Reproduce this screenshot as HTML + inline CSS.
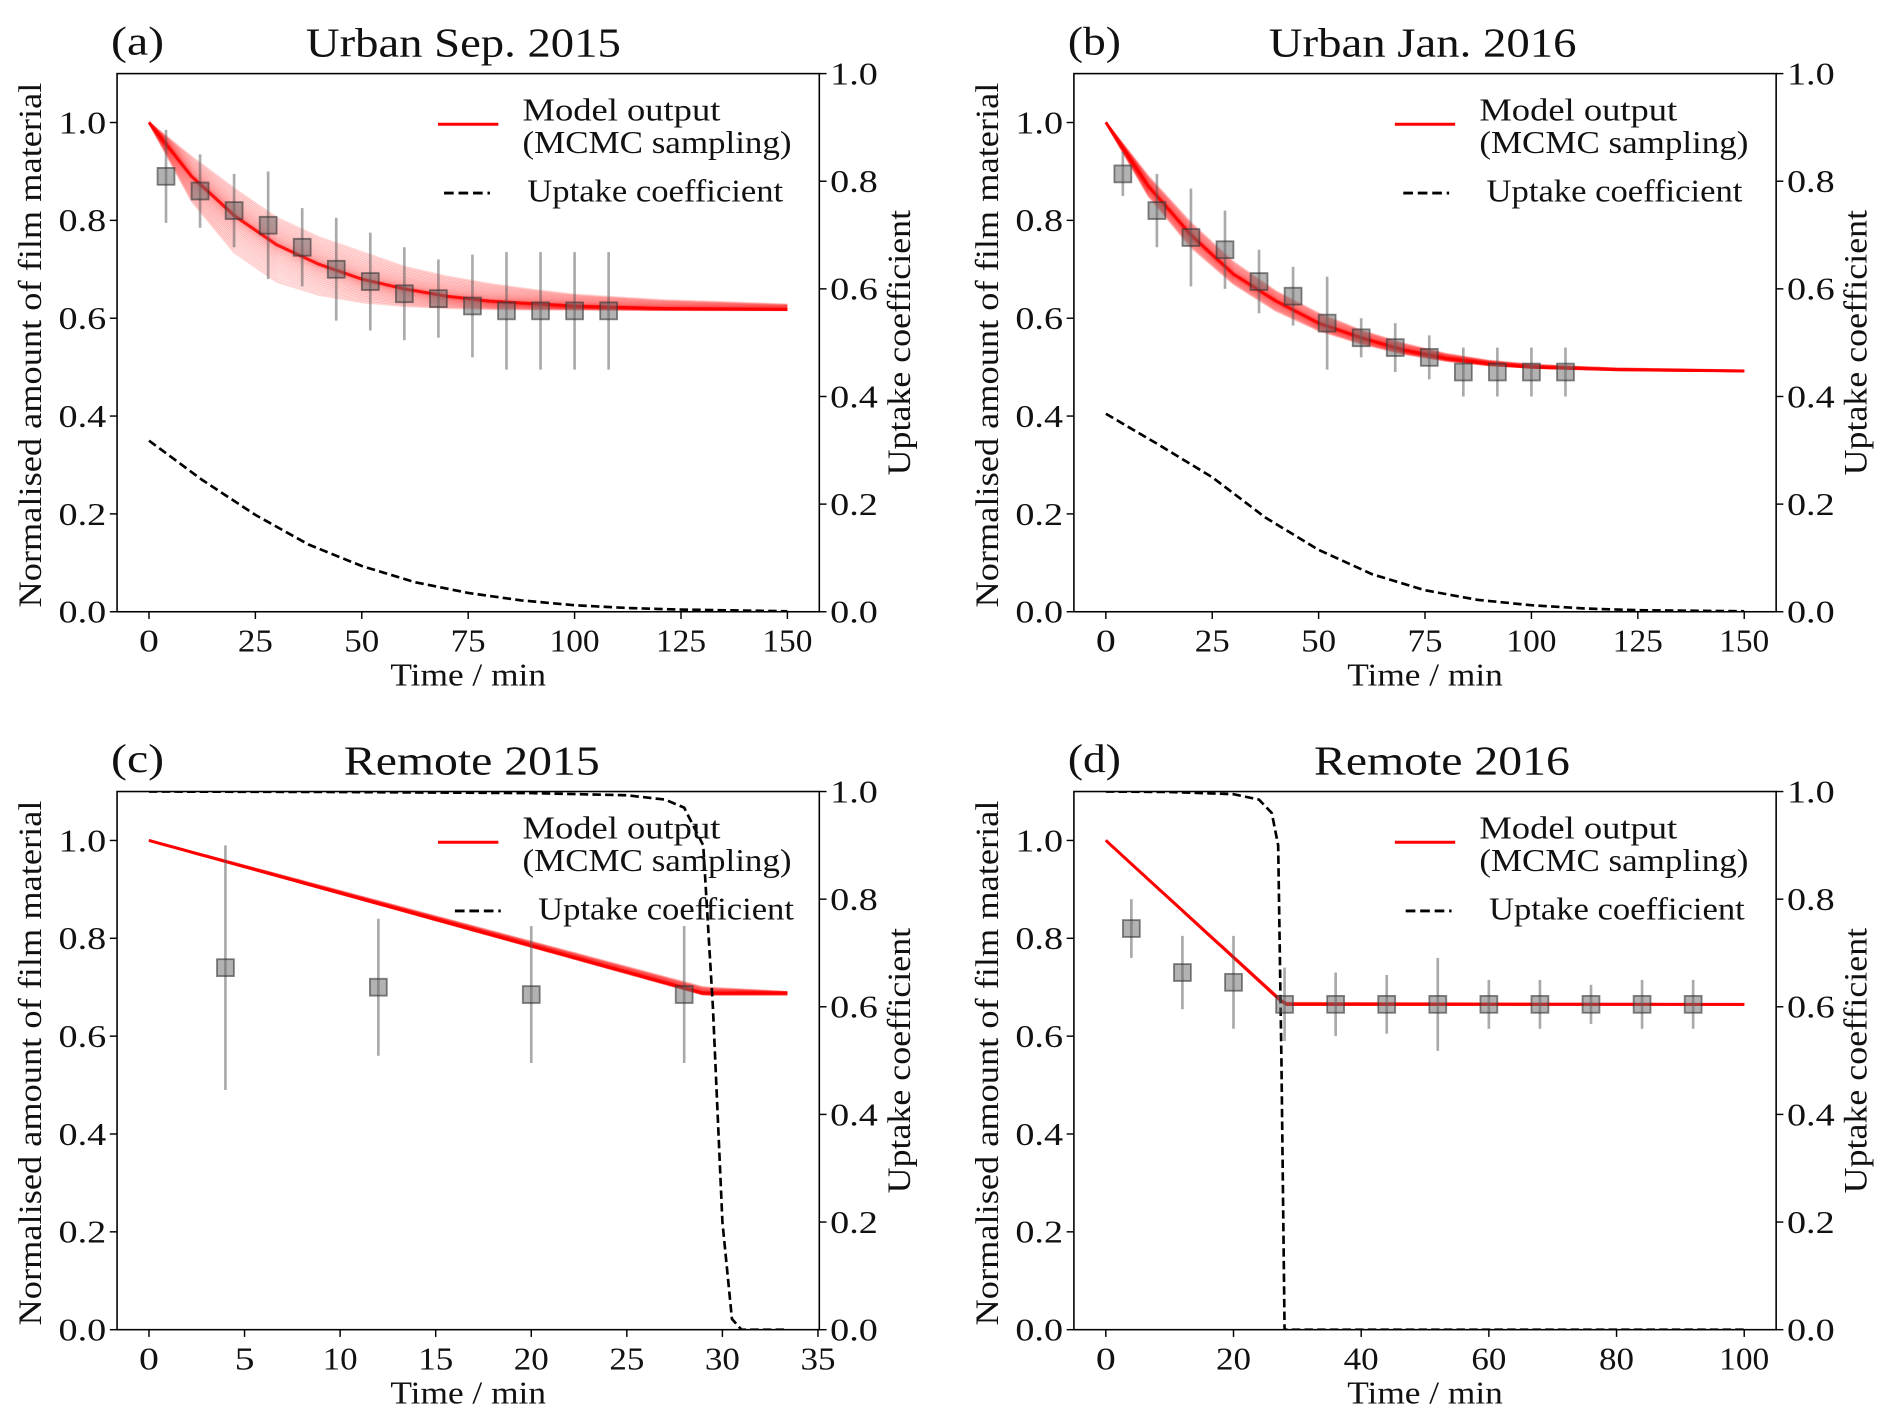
<!DOCTYPE html>
<html><head><meta charset="utf-8"><style>
html,body{margin:0;padding:0;background:#fff}
svg{display:block}
text{font-family:"Liberation Serif","DejaVu Serif",serif;fill:#111}
</style></head><body>
<svg id="fig" width="1892" height="1425" viewBox="0 0 1568 1181" xmlns="http://www.w3.org/2000/svg"></svg>
<script>
// ---- data ----
const timesA = [4,12,20,28,36,44,52,60,68,76,84,92,100,108];
const obsA = [0.89,0.86,0.82,0.79,0.745,0.70,0.675,0.65,0.64,0.625,0.615,0.615,0.615,0.615];
const errA = [0.095,0.075,0.075,0.11,0.08,0.105,0.1,0.095,0.08,0.105,0.12,0.12,0.12,0.12];
const modelTA = [0,10,20,30,40,50,60,70,80,90,100,120,150];
const modelLoA = [1.0,0.84,0.735,0.675,0.648,0.633,0.625,0.621,0.619,0.618,0.618,0.617,0.617];
const modelMidA = [1.0,0.89,0.81,0.75,0.71,0.68,0.66,0.645,0.635,0.63,0.625,0.62,0.618];
const modelHiA = [1.0,0.93,0.865,0.805,0.765,0.735,0.705,0.685,0.67,0.658,0.648,0.637,0.628];
const uptakeTA = [0,12.5,25,37.5,50,62.5,75,87.5,100,112.5,125,150];
const uptakeA = [0.318,0.245,0.18,0.125,0.085,0.055,0.035,0.021,0.012,0.007,0.004,0.001];

const timesB = [4,12,20,28,36,44,52,60,68,76,84,92,100,108];
const obsB = [0.895,0.82,0.765,0.74,0.675,0.645,0.59,0.56,0.54,0.52,0.49,0.49,0.49,0.49];
const errB = [0.045,0.075,0.1,0.08,0.065,0.06,0.095,0.04,0.05,0.045,0.05,0.05,0.05,0.05];
const modelTB = [0,10,20,30,40,50,60,70,80,90,100,120,150];
const modelLoB = [1.0,0.85,0.745,0.67,0.615,0.575,0.548,0.527,0.513,0.504,0.499,0.494,0.492];
const modelMidB = [1.0,0.87,0.77,0.69,0.635,0.59,0.56,0.535,0.518,0.507,0.50,0.495,0.492];
const modelHiB = [1.0,0.89,0.795,0.715,0.655,0.61,0.575,0.548,0.527,0.513,0.505,0.497,0.493];
const uptakeTB = [0,12.5,25,37.5,50,62.5,75,87.5,100,112.5,125,150];
const uptakeB = [0.368,0.31,0.25,0.175,0.115,0.07,0.04,0.022,0.012,0.006,0.003,0.001];

const timesC = [4,12,20,28];
const obsC = [0.74,0.70,0.685,0.685];
const errC = [0.25,0.14,0.14,0.14];
const modelTC = [0,29,33.4];
const modelLoC = [1.0,0.685,0.685];
const modelMidC = [1.0,0.688,0.688];
const modelHiC = [1.0,0.70,0.69];
const uptakeTC = [0,10,20,25,27,28,29,29.5,30,30.5,31,33.4];
const uptakeC = [1.0,0.999,0.997,0.993,0.985,0.97,0.9,0.6,0.2,0.02,0.0,0.0];

const timesD = [4,12,20,28,36,44,52,60,68,76,84,92];
const obsD = [0.82,0.73,0.71,0.665,0.665,0.665,0.665,0.665,0.665,0.665,0.665,0.665];
const errD = [0.06,0.075,0.095,0.075,0.065,0.06,0.095,0.05,0.05,0.04,0.05,0.05];
const modelTD = [0,28,100];
const modelLoD = [1.0,0.665,0.665];
const modelMidD = [1.0,0.665,0.665];
const modelHiD = [1.0,0.668,0.665];
const uptakeTD = [0,10,20,24,26,27,27.5,28,100];
const uptakeD = [1.0,0.999,0.995,0.985,0.96,0.9,0.5,0.0,0.0];

const NS = "http://www.w3.org/2000/svg";
const svg = document.getElementById('fig');
function mk(tag, attrs, parent, txt){
  const e = document.createElementNS(NS, tag);
  for (const k in attrs) e.setAttribute(k, attrs[k]);
  if (txt !== undefined) e.textContent = txt;
  (parent || svg).appendChild(e);
  return e;
}
function interp(ts, vs, t){
  if (t <= ts[0]) return vs[0];
  for (let i=1;i<ts.length;i++){ if (t<=ts[i]){ const f=(t-ts[i-1])/(ts[i]-ts[i-1]); return vs[i-1]+f*(vs[i]-vs[i-1]); } }
  return vs[vs.length-1];
}
function tickW(s){ return s.length*12.5 + (s.indexOf('.')>=0 ? 2 : 4); }

function panel(cfg){
  const g = mk('g', {});
  
  
  const L = cfg.ox+97, R = cfg.ox+679, T = cfg.oy+61, B = cfg.oy+507;
  const xs = t => L + (t - cfg.xmin)/(cfg.xmax-cfg.xmin)*(R-L);
  const ys = v => B - v/1.1*(B-T);
  const yr = v => B - v*(B-T);
  const clip = mk('clipPath', {id:'clip'+cfg.id}, g);
  mk('rect', {x:L, y:T, width:R-L, height:B-T}, clip);
  const plot = mk('g', {'clip-path':'url(#clip'+cfg.id+')'}, g);
  const tmax = cfg.mt[cfg.mt.length-1];
  const nC = 40;
  for (let k=0;k<nC;k++){
    const f0 = k/(nC-1);
    const f = 0.5 + 0.5*Math.sign(f0-0.5)*Math.pow(Math.abs(f0-0.5)*2, 1.6);
    let d = '';
    for (let s=0;s<=120;s++){
      const t = tmax*s/120;
      const lo = interp(cfg.mt, cfg.lo, t), mid = interp(cfg.mt, cfg.mid, t), hi = interp(cfg.mt, cfg.hi, t);
      const v = f<0.5 ? lo + (mid-lo)*f*2 : mid + (hi-mid)*(f-0.5)*2;
      d += (s?'L':'M') + xs(t).toFixed(1) + ',' + ys(v).toFixed(1);
    }
    const p = mk('path', {d:d, fill:'none', stroke:'#ff0000', 'stroke-opacity':0.16, 'stroke-width':2}, plot);
    
    
  }
  let dm = '';
  for (let s=0;s<=120;s++){ const t=tmax*s/120; dm += (s?'L':'M')+xs(t).toFixed(1)+','+ys(interp(cfg.mt,cfg.mid,t)).toFixed(1); }
  const pm = mk('path', {d:dm, fill:'none', stroke:'#ff0000', 'stroke-opacity':0.8, 'stroke-width':2.5}, plot);
  
  
  let du = '';
  cfg.ut.forEach((t,i)=>{ du += (i?'L':'M')+xs(t).toFixed(1)+','+yr(cfg.uv[i]).toFixed(1); });
  const pu = mk('path', {d:du, fill:'none', stroke:'#000', 'stroke-width':2.2, 'stroke-dasharray':'7,3.5'}, plot);
  
  
  cfg.ot.forEach((t,i)=>{
    const x = xs(t), y = ys(cfg.ov[i]);
    const eb = mk('line', {x1:x, x2:x, y1:ys(cfg.ov[i]-cfg.oe[i]), y2:ys(cfg.ov[i]+cfg.oe[i]), stroke:'#555', 'stroke-opacity':0.5, 'stroke-width':2.2}, plot);
    
    
    const m = mk('rect', {x:x-7, y:y-7, width:14, height:14, fill:'#666', 'fill-opacity':0.5, stroke:'#333', 'stroke-opacity':0.6, 'stroke-width':1.5}, plot);
    
    
  });
  const fr = mk('rect', {x:L, y:T, width:R-L, height:B-T, fill:'none', stroke:'#000', 'stroke-width':1.3}, g);
  
  
  [0,0.2,0.4,0.6,0.8,1.0].forEach(v=>{
    const y = ys(v), s = v.toFixed(1);
    mk('line', {x1:L-6, x2:L, y1:y, y2:y, stroke:'#000', 'stroke-width':1.2}, g);
    const tx = mk('text', {x:L-9, y:y+9, 'text-anchor':'end', 'font-size':26, textLength:tickW(s), lengthAdjust:'spacingAndGlyphs'}, g, s);
    
    
  });
  [0,0.2,0.4,0.6,0.8,1.0].forEach(v=>{
    const y = yr(v), s = v.toFixed(1);
    mk('line', {x1:R, x2:R+6, y1:y, y2:y, stroke:'#000', 'stroke-width':1.2}, g);
    const tx = mk('text', {x:R+9, y:y+9, 'text-anchor':'start', 'font-size':26, textLength:tickW(s), lengthAdjust:'spacingAndGlyphs'}, g, s);
    
    
  });
  cfg.xticks.forEach(v=>{
    const x = xs(v), s = String(v);
    mk('line', {x1:x, x2:x, y1:B, y2:B+6, stroke:'#000', 'stroke-width':1.2}, g);
    const tx = mk('text', {x:x, y:B+33, 'text-anchor':'middle', 'font-size':26, textLength:tickW(s), lengthAdjust:'spacingAndGlyphs'}, g, s);
    
    
  });
  const xl = mk('text', {x:(L+R)/2, y:B+61, 'text-anchor':'middle', 'font-size':26, textLength:129, lengthAdjust:'spacingAndGlyphs'}, g, 'Time / min');
  
  
  const yl = mk('text', {x:0, y:0, 'text-anchor':'middle', 'font-size':27, textLength:435, lengthAdjust:'spacingAndGlyphs', transform:'translate('+(cfg.ox+34)+','+((T+B)/2+2)+') rotate(-90)'}, g, 'Normalised amount of film material');
  
  
  const yl2 = mk('text', {x:0, y:0, 'text-anchor':'middle', 'font-size':27, textLength:220, lengthAdjust:'spacingAndGlyphs', transform:'translate('+(cfg.ox+754)+','+((T+B)/2)+') rotate(-90)'}, g, 'Uptake coefficient');
  
  
  const pl = mk('text', {x:cfg.ox+92, y:cfg.oy+45, 'font-size':33, textLength:44, lengthAdjust:'spacingAndGlyphs'}, g, cfg.letter);
  
  
  const ti = mk('text', {x:cfg.ox+cfg.tx, y:cfg.oy+47, 'text-anchor':'middle', 'font-size':34, textLength:cfg.tw, lengthAdjust:'spacingAndGlyphs'}, g, cfg.title);
  
  
  const lg = mk('g', {}, g);
  
  
  mk('line', {x1:cfg.ox+363, x2:cfg.ox+413, y1:cfg.oy+103, y2:cfg.oy+103, stroke:'#ff0000', 'stroke-width':2.5}, lg);
  mk('text', {x:cfg.ox+433, y:cfg.oy+100, 'font-size':26, textLength:164, lengthAdjust:'spacingAndGlyphs'}, lg, 'Model output');
  mk('text', {x:cfg.ox+433, y:cfg.oy+127, 'font-size':26, textLength:223, lengthAdjust:'spacingAndGlyphs'}, lg, '(MCMC sampling)');
  mk('line', {x1:cfg.ox+cfg.lx, x2:cfg.ox+cfg.lx+38, y1:cfg.oy+160, y2:cfg.oy+160, stroke:'#000', 'stroke-width':2.4, 'stroke-dasharray':'8,4'}, lg);
  mk('text', {x:cfg.ox+cfg.lx+69, y:cfg.oy+167, 'font-size':26, textLength:212, lengthAdjust:'spacingAndGlyphs'}, lg, 'Uptake coefficient');
}

panel({id:'a', name:'panel-a', ox:0, oy:0, letter:'(a)', title:'Urban Sep. 2015', tx:384, tw:261, xmin:-7.5, xmax:157.5, xticks:[0,25,50,75,100,125,150], ot:timesA, ov:obsA, oe:errA, mt:modelTA, lo:modelLoA, mid:modelMidA, hi:modelHiA, ut:uptakeTA, uv:uptakeA, lx:368});
panel({id:'b', name:'panel-b', ox:793, oy:0, letter:'(b)', title:'Urban Jan. 2016', tx:386, tw:255, xmin:-7.5, xmax:157.5, xticks:[0,25,50,75,100,125,150], ot:timesB, ov:obsB, oe:errB, mt:modelTB, lo:modelLoB, mid:modelMidB, hi:modelHiB, ut:uptakeTB, uv:uptakeB, lx:370});
panel({id:'c', name:'panel-c', ox:0, oy:595, letter:'(c)', title:'Remote 2015', tx:391, tw:212, xmin:-1.67, xmax:35.07, xticks:[0,5,10,15,20,25,30,35], ot:timesC, ov:obsC, oe:errC, mt:modelTC, lo:modelLoC, mid:modelMidC, hi:modelHiC, ut:uptakeTC, uv:uptakeC, lx:377});
panel({id:'d', name:'panel-d', ox:793, oy:595, letter:'(d)', title:'Remote 2016', tx:402, tw:212, xmin:-5, xmax:105, xticks:[0,20,40,60,80,100], ot:timesD, ov:obsD, oe:errD, mt:modelTD, lo:modelLoD, mid:modelMidD, hi:modelHiD, ut:uptakeTD, uv:uptakeD, lx:372});
</script>
</body></html>
